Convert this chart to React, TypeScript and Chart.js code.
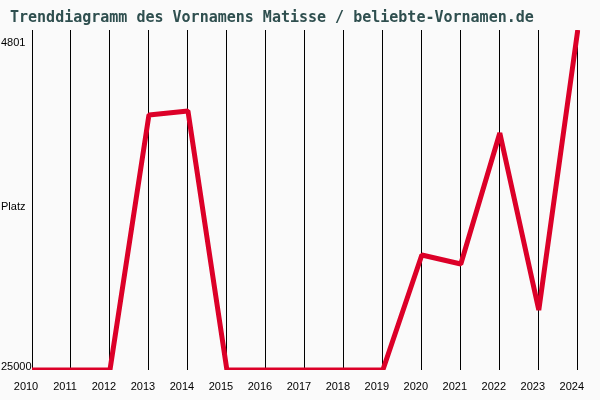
import { useEffect, useRef } from "react";
import { Chart, registerables } from "chart.js";

Chart.register(...registerables);

const years = ["2010", "2011", "2012", "2013", "2014", "2015", "2016", "2017", "2018", "2019", "2020", "2021", "2022", "2023", "2024"];
const ranks = [25000, 25000, 25000, 9850, 9610, 25000, 25000, 25000, 25000, 25000, 18170, 18700, 10920, 21440, 4801];
const rankBest = 4801;
const rankWorst = 25000;
const yLabels = ["4801", "Platz", "25000"];
const yLabelValues = [4801, 14900, 25000];

// y labels are drawn like the original (not centred on the value)
const yLabelPlugin = {
  id: "yLabels",
  afterDraw(chart: any) {
    const { ctx } = chart;
    const scale = chart.scales.y;
    const shifts = [13, 7, -3];
    ctx.save();
    ctx.font = "11px 'Liberation Sans'";
    ctx.fillStyle = "#000";
    ctx.textAlign = "left";
    ctx.textBaseline = "middle";
    yLabelValues.forEach((v, i) => {
      ctx.fillText(yLabels[i], 1, scale.getPixelForValue(v) + shifts[i]);
    });
    ctx.restore();
  },
};

export default function App() {
  const chartRef = useRef<HTMLCanvasElement>(null);

  useEffect(() => {
    if (!chartRef.current) return;
    const chart = new Chart(chartRef.current, {
      type: "line",
      data: {
        labels: years,
        datasets: [
          {
            data: ranks,
            borderColor: "rgb(220, 0, 40)",
            borderWidth: 5,
            borderJoinStyle: "bevel",
            pointRadius: 0,
            tension: 0,
            fill: false,
          },
        ],
      },
      options: {
        animation: false,
        responsive: true,
        maintainAspectRatio: false,
        layout: { padding: { left: 10, right: 22, top: 0, bottom: 0 } },
        plugins: {
          legend: { display: false },
          tooltip: { enabled: false },
          title: {
            display: true,
            text: "Trenddiagramm des Vornamens Matisse / beliebte-Vornamen.de",
            align: "start",
            color: "#2f4f4f",
            font: { family: "'DejaVu Sans Mono'", size: 15, weight: "bold" },
            padding: { top: 9, bottom: 3 },
          },
        },
        scales: {
          x: {
            type: "category",
            offset: false,
            grid: { color: "#000", lineWidth: 1, drawTicks: false, offset: false },
            border: { display: false },
            ticks: {
              color: "#000",
              font: { family: "'Liberation Sans'", size: 11 },
              padding: 10,
              labelOffset: -6,
              maxRotation: 0,
              autoSkip: false,
            },
            afterFit(scale: any) {
              scale.height = 30;
            },
          },
          y: {
            reverse: true,
            min: rankBest,
            max: rankWorst,
            grid: { display: false },
            border: { display: false },
            ticks: { display: false },
            afterFit(scale: any) {
              scale.width = 22;
            },
          },
        },
      },
      plugins: [yLabelPlugin],
    });
    return () => chart.destroy();
  }, []);

  return (
    <div style={{ position: "absolute", left: 0, top: 0, width: 600, height: 400, background: "#fafafa" }}>
      <canvas ref={chartRef}></canvas>
    </div>
  );
}
